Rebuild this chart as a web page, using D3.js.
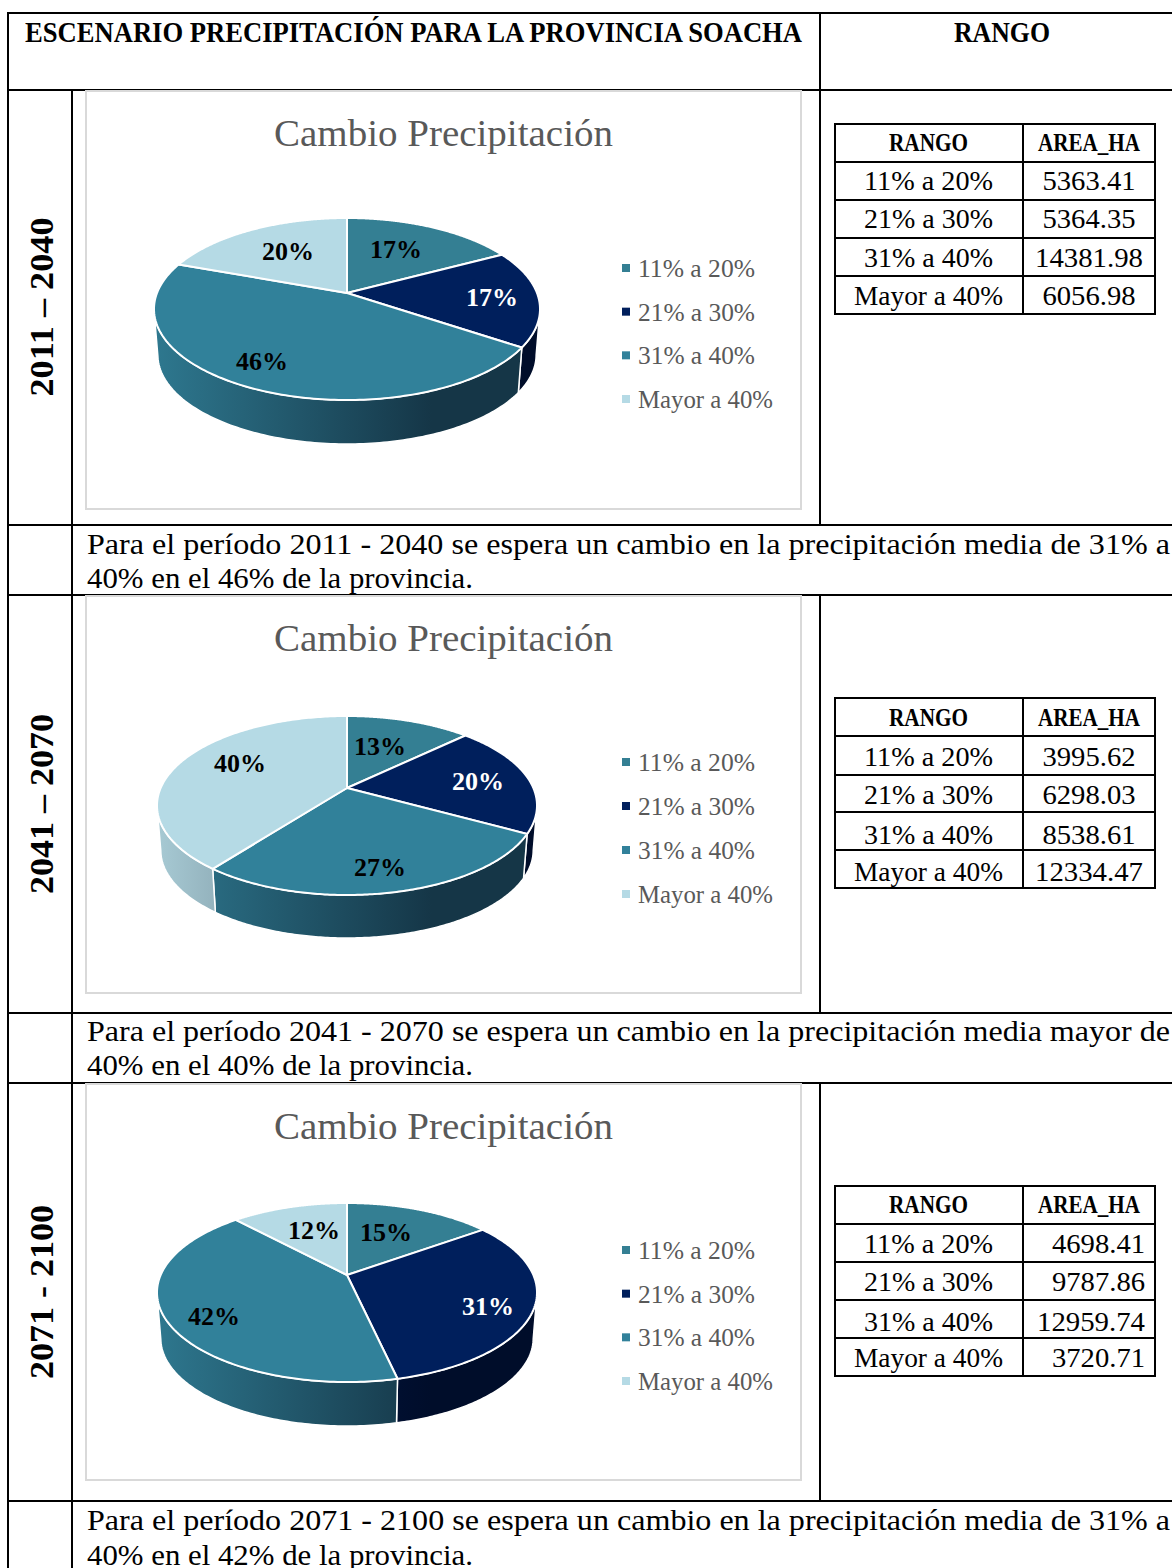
<!DOCTYPE html>
<html>
<head>
<meta charset="utf-8">
<script src="https://cdn.jsdelivr.net/npm/d3@7"></script>
<style>
  html, body { margin: 0; padding: 0; background: #fff; }
  svg { display: block; }
  text { font-family: "Liberation Serif", serif; }
</style>
</head>
<body>
<div id="chart"></div>
<script>
// data
const ranges = ['11% a 20%', '21% a 30%', '31% a 40%', 'Mayor a 40%'];
const periods = ['2011 – 2040', '2041 – 2070', '2071 - 2100'];
const area2011 = [5363.41, 5364.35, 14381.98, 6056.98];
const area2041 = [3995.62, 6298.03, 8538.61, 12334.47];
const area2071 = [4698.41, 9787.86, 12959.74, 3720.71];
const pct2011 = ['17%', '17%', '46%', '20%'];
const pct2041 = ['13%', '20%', '27%', '40%'];
const pct2071 = ['15%', '31%', '42%', '12%'];
const notes2011 = ['Para el período 2011 - 2040 se espera un cambio en la precipitación media de 31% a', '40% en el 46% de la provincia.'];
const notes2041 = ['Para el período 2041 - 2070 se espera un cambio en la precipitación media mayor de', '40% en el 40% de la provincia.'];
const notes2071 = ['Para el período 2071 - 2100 se espera un cambio en la precipitación media de 31% a', '40% en el 42% de la provincia.'];

const colors = ['#347F93', '#001F5C', '#31819A', '#B5DAE5'];
const labelColors = ['#000', '#fff', '#000', '#000'];

const width = 1172, height = 1568;
const svg = d3.select('#chart').append('svg').attr('width', width).attr('height', height);
const defs = svg.append('defs');

// wall shading runs left to right over the whole pie, same for every chart
colors.forEach((c, i) => {
  const g = defs.append('linearGradient').attr('id', `wall-${i}`)
    .attr('gradientUnits', 'userSpaceOnUse').attr('x1', 154).attr('x2', 540).attr('y1', 0).attr('y2', 0);
  const base = d3.rgb(c);
  const start = d3.rgb(base.r * 0.93, base.g * 0.93, base.b * 0.93);
  const dark = d3.rgb(base.r * 0.42, base.g * 0.42, base.b * 0.46);
  g.append('stop').attr('offset', '0%').attr('stop-color', start.formatHex());
  g.append('stop').attr('offset', '72%').attr('stop-color', dark.formatHex());
  g.append('stop').attr('offset', '100%').attr('stop-color', dark.formatHex());
});

function fitText(sel, str, x, y, size, len, opts = {}) {
  const t = sel.append('text').attr('x', x).attr('y', y).attr('font-size', size)
    .attr('fill', opts.fill || '#000').attr('font-weight', opts.bold ? 'bold' : 'normal')
    .attr('text-anchor', opts.anchor || 'start').text(str);
  if (len) t.attr('textLength', len).attr('lengthAdjust', 'spacingAndGlyphs');
  return t;
}

// outer grid of the document table
const grid = svg.append('g').attr('stroke', '#000').attr('stroke-width', 2);
const hLines = [13, 90, 525, 595, 1013, 1083, 1501];
hLines.forEach(y => grid.append('line').attr('x1', 7).attr('x2', width).attr('y1', y).attr('y2', y));
grid.append('line').attr('x1', 8).attr('x2', 8).attr('y1', 12).attr('y2', height);
grid.append('line').attr('x1', 72).attr('x2', 72).attr('y1', 90).attr('y2', height);
[[12, 525], [595, 1013], [1083, 1501]].forEach(([a, b]) =>
  grid.append('line').attr('x1', 820).attr('x2', 820).attr('y1', a).attr('y2', b));

fitText(svg, 'ESCENARIO PRECIPITACIÓN PARA LA PROVINCIA SOACHA', 25, 42, 29, 777, { bold: true });
fitText(svg, 'RANGO', 954, 42, 29, 96, { bold: true });

function drawPie(g, values, labels, geo) {
  const { cx, cy, rx, top, bottom, depth } = geo;
  // perspective ellipse: the apex sits above the ellipse centre
  const up = cy - top, down = bottom - cy;
  const k = (down - up) / (down + up);
  const B = up * (1 + k);
  const A = rx * Math.sqrt(1 - k * k);
  const project = (a, r = 1) => {
    const u = r * Math.sin(a), v = -r * Math.cos(a), w = 1 - k * v;
    return { x: cx + A * u / w, y: cy + B * v / w, v };
  };
  const arcs = d3.pie().sort(null).value(d => d)(values);
  const line = d3.line().x(d => d.x).y(d => d.y);
  const samples = a => d3.range(0, 161).map(i => project(a.startAngle + (a.endAngle - a.startAngle) * i / 160));

  // bottom ring is a bit smaller than the top one
  const shrink = 0.98;
  const midY = (top + bottom) / 2, ry = (bottom - top) / 2;
  const drop = depth + ry * (1 - shrink);
  const lowerPoint = p => ({ x: cx + (p.x - cx) * shrink, y: midY + (p.y - midY) * shrink + drop });

  // side walls: only the part of the rim that faces the viewer
  arcs.forEach((a, i) => {
    const rim = samples(a).filter(p => p.v >= k);
    if (rim.length < 2) return;
    const lower = rim.slice().reverse().map(lowerPoint);
    g.append('path').attr('d', line(rim.concat(lower)) + 'Z')
      .attr('fill', `url(#wall-${i})`).attr('stroke', '#fff').attr('stroke-width', 1.5).attr('stroke-linejoin', 'round');
  });

  // top faces
  arcs.forEach((a, i) => {
    g.append('path').attr('d', line([{ x: cx, y: cy }].concat(samples(a))) + 'Z')
      .attr('fill', colors[i]).attr('stroke', '#fff').attr('stroke-width', 2).attr('stroke-linejoin', 'round');
  });

  // best-fit label spots, relative to the pie apex
  labels.forEach((txt, i) => {
    fitText(g, txt, cx + geo.labelSpots[i][0], cy + geo.labelSpots[i][1] + 9, 26, 52,
      { bold: true, anchor: 'middle', fill: labelColors[i] });
  });
}

function drawPanel(cfg) {
  const g = svg.append('g');
  g.append('rect').attr('x', 86).attr('y', cfg.frameTop).attr('width', 715).attr('height', cfg.frameH)
    .attr('fill', '#fff').attr('stroke', '#D9D9D9').attr('stroke-width', 2);
  fitText(g, 'Cambio Precipitación', 274, cfg.titleY, 38, 339, { fill: '#595959' });
  drawPie(g, cfg.values, cfg.labels, cfg.geo);

  // legend
  const ly = d3.scalePoint().domain(ranges).range(cfg.legendY);
  ranges.forEach((r, i) => {
    g.append('rect').attr('x', 622).attr('y', ly(r) - 4).attr('width', 8).attr('height', 8).attr('fill', colors[i]);
    fitText(g, r, 638, ly(r) + 9, 25, i === 3 ? 135 : 117, { fill: '#595959' });
  });

  // period label, rotated
  fitText(g, cfg.period, 0, 0, 33, cfg.periodLen, { bold: true, anchor: 'middle' })
    .attr('transform', `translate(53,${cfg.periodY}) rotate(-90)`);

  // side table
  const t = svg.append('g');
  const rowY = cfg.tableRows;
  t.append('rect').attr('x', 835).attr('y', rowY[0]).attr('width', 320).attr('height', rowY[5] - rowY[0])
    .attr('fill', 'none').attr('stroke', '#000').attr('stroke-width', 2);
  rowY.slice(1, 5).forEach(y => t.append('line').attr('x1', 835).attr('x2', 1155).attr('y1', y).attr('y2', y)
    .attr('stroke', '#000').attr('stroke-width', 2));
  t.append('line').attr('x1', 1023).attr('x2', 1023).attr('y1', rowY[0]).attr('y2', rowY[5])
    .attr('stroke', '#000').attr('stroke-width', 2);
  fitText(t, 'RANGO', 928.5, cfg.textY[0], 25, 79, { bold: true, anchor: 'middle' });
  fitText(t, 'AREA_HA', 1089, cfg.textY[0], 25, 102, { bold: true, anchor: 'middle' });
  ranges.forEach((r, i) => {
    fitText(t, r, 928.5, cfg.textY[i + 1], 28, i === 3 ? 149 : 129, { anchor: 'middle' });
    const s = cfg.values[i].toFixed(2);
    fitText(t, s, cfg.valueRight ? 1145 : 1089, cfg.textY[i + 1], 28, s.length > 7 ? 108 : 93,
      { anchor: cfg.valueRight ? 'end' : 'middle' });
  });

  // paragraph under the panel
  fitText(svg, cfg.notes[0], 87, cfg.noteY, 29, 1083);
  fitText(svg, cfg.notes[1], 87, cfg.noteY2, 29, 386);
}

drawPanel({
  frameTop: 91, frameH: 418, titleY: 146, period: periods[0], periodY: 307, periodLen: 179,
  values: area2011, labels: pct2011, notes: notes2011, noteY: 554, noteY2: 588,
  legendY: [268, 399],
  geo: { cx: 347, cy: 293, rx: 193, top: 218, bottom: 400, depth: 44,
    labelSpots: [[49, -44], [145, 4], [-85, 68], [-59, -42]] },
  tableRows: [124, 162, 200, 238, 276, 314], textY: [151, 190, 228, 267, 305]
});
drawPanel({
  frameTop: 596, frameH: 397, titleY: 651, period: periods[1], periodY: 804, periodLen: 180,
  values: area2041, labels: pct2041, notes: notes2041, noteY: 1041, noteY2: 1075,
  legendY: [762, 894],
  geo: { cx: 347, cy: 788, rx: 190, top: 716, bottom: 895, depth: 43,
    labelSpots: [[33, -42], [131, -7], [33, 79], [-107, -25]] },
  tableRows: [698, 736, 775, 812, 850, 888], textY: [726, 766, 804, 844, 881]
});
drawPanel({
  frameTop: 1084, frameH: 396, titleY: 1139, period: periods[2], periodY: 1292, periodLen: 174,
  values: area2071, labels: pct2071, notes: notes2071, noteY: 1530, noteY2: 1565, valueRight: true,
  legendY: [1250, 1381],
  geo: { cx: 347, cy: 1275, rx: 190, top: 1203, bottom: 1382, depth: 44,
    labelSpots: [[39, -43], [141, 31], [-133, 41], [-33, -45]] },
  tableRows: [1186, 1224, 1262, 1300, 1338, 1376], textY: [1213, 1253, 1291, 1331, 1367]
});
</script>
</body>
</html>
